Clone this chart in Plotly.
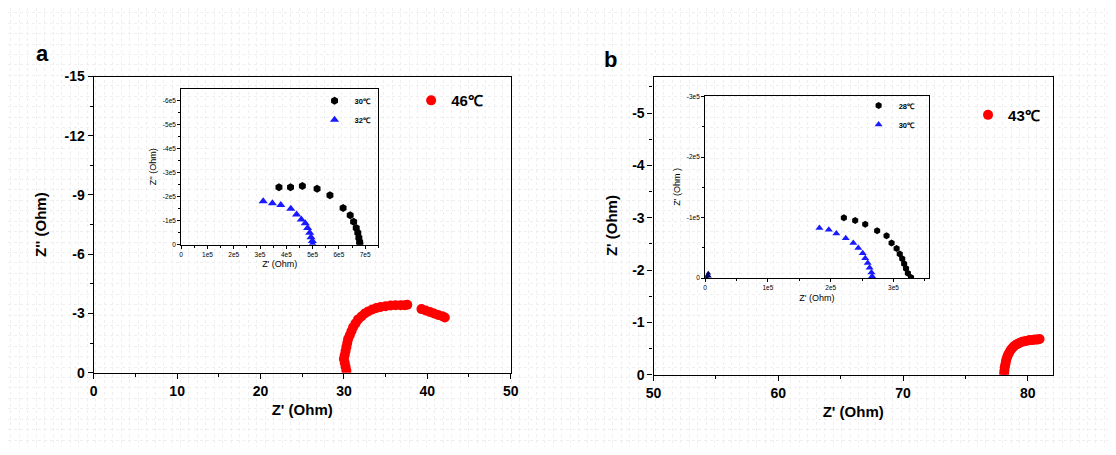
import plotly.graph_objects as go

W, H = 1116, 455

# ---------------- data ----------------
# (a) main: 46 ℃ Nyquist spectrum (Ohm)
a_zre = [30.3, 30.2, 30.1, 30.0, 30.1, 30.2, 30.3, 30.4, 30.5, 30.7, 30.9, 31.1,
         31.4, 31.7, 32.1, 32.5, 32.9, 33.4, 33.9, 34.4, 35.0, 35.6, 36.2, 36.8,
         37.3, 37.6,
         39.3, 39.8, 40.3, 40.8, 41.3, 41.8, 42.1]
a_zim = [-0.1, -0.3, -0.5, -0.7, -0.9, -1.1, -1.3, -1.5, -1.7, -1.9, -2.1, -2.3,
         -2.5, -2.7, -2.85, -3.0, -3.1, -3.2, -3.28, -3.33, -3.37, -3.4, -3.42, -3.42,
         -3.42, -3.44,
         -3.22, -3.15, -3.08, -3.0, -2.92, -2.86, -2.8]

# (a) inset: 30 ℃ and 32 ℃ spectra
a30_zre = [3.72e5, 4.16e5, 4.61e5, 5.17e5, 5.66e5, 6.16e5, 6.43e5, 6.56e5, 6.66e5,
           6.72e5, 6.76e5, 6.79e5, 6.80e5]
a30_zim = [-2.40e5, -2.40e5, -2.45e5, -2.33e5, -2.06e5, -1.53e5, -1.23e5, -0.96e5,
           -0.70e5, -0.50e5, -0.30e5, -0.12e5, -0.02e5]
a32_zre = [3.12e5, 3.47e5, 3.79e5, 4.17e5, 4.39e5, 4.57e5, 4.72e5, 4.81e5, 4.89e5,
           4.94e5, 4.99e5, 5.00e5]
a32_zim = [-1.81e5, -1.73e5, -1.66e5, -1.50e5, -1.26e5, -1.06e5, -0.90e5, -0.70e5,
           -0.50e5, -0.32e5, -0.16e5, -0.03e5]

# (b) main: 43 ℃ spectrum (Ohm)
b_zre = [78.1, 78.12, 78.15, 78.2, 78.25, 78.3, 78.38, 78.48, 78.6, 78.72, 78.88,
         79.05, 79.2, 79.36, 79.55, 79.75, 79.95, 80.15, 80.35, 80.55, 80.75, 80.94]
b_zim = [-0.02, -0.08, -0.14, -0.2, -0.26, -0.31, -0.36, -0.41, -0.46, -0.5, -0.54,
         -0.57, -0.59, -0.61, -0.63, -0.64, -0.65, -0.66, -0.66, -0.67, -0.67, -0.68]

# (b) inset: 28 ℃ and 30 ℃ spectra, plus the 43 ℃ data at this scale
b28_zre = [2.21e5, 2.39e5, 2.55e5, 2.74e5, 2.89e5, 2.97e5, 3.05e5, 3.10e5, 3.14e5,
           3.17e5, 3.20e5, 3.23e5, 3.28e5]
b28_zim = [-1.00e5, -0.955e5, -0.89e5, -0.785e5, -0.70e5, -0.58e5, -0.49e5, -0.40e5,
           -0.32e5, -0.24e5, -0.16e5, -0.08e5, -0.01e5]
b30_zre = [1.82e5, 1.97e5, 2.09e5, 2.24e5, 2.36e5, 2.44e5, 2.51e5, 2.55e5, 2.59e5,
           2.62e5, 2.65e5, 2.66e5]
b30_zim = [-0.83e5, -0.80e5, -0.74e5, -0.66e5, -0.58e5, -0.50e5, -0.41e5, -0.33e5,
           -0.25e5, -0.17e5, -0.095e5, -0.03e5]
b43_zre = [0.02e5, 0.04e5, 0.05e5, 0.06e5]
b43_zim = [-0.02e5, -0.05e5, -0.08e5, -0.03e5]

# tick labels
a_x_ticks = [0, 10, 20, 30, 40, 50]
a_y_ticks = [0, -3, -6, -9, -12, -15]
a_in_x_ticks = [0, 1e5, 2e5, 3e5, 4e5, 5e5, 6e5, 7e5]
a_in_x_text = ["0", "1e5", "2e5", "3e5", "4e5", "5e5", "6e5", "7e5"]
a_in_y_ticks = [0, -1e5, -2e5, -3e5, -4e5, -5e5, -6e5]
a_in_y_text = ["0", "-1e5", "-2e5", "-3e5", "-4e5", "-5e5", "-6e5"]
b_x_ticks = [50, 60, 70, 80]
b_y_ticks = [0, -1, -2, -3, -4, -5]
b_in_x_ticks = [0, 1e5, 2e5, 3e5]
b_in_x_text = ["0", "1e5", "2e5", "3e5"]
b_in_y_ticks = [0, -1e5, -2e5, -3e5]
b_in_y_text = ["0", "-1e5", "-2e5", "-3e5"]


# ---------------- helpers ----------------
def dom_x(p0, p1):
    return [p0 / W, p1 / W]


def dom_y(top, bottom):
    return [1 - bottom / H, 1 - top / H]


def axis(domain, rng, tickvals, ticktext, minor_vals, font_size, bold,
         title, title_size, standoff, ticklen=5, minorlen=3, lw=1.3, anchor=None):
    weight = "bold" if bold else "normal"
    d = dict(
        domain=domain, range=rng, showline=True, linecolor="black", linewidth=lw,
        mirror=True, ticks="outside", ticklen=ticklen, tickwidth=lw, tickcolor="black",
        showgrid=False, zeroline=False, tickmode="array", tickvals=tickvals,
        ticktext=ticktext,
        tickfont=dict(family="Arial", size=font_size, color="black", weight=weight),
        minor=dict(ticks="outside", ticklen=minorlen, tickwidth=lw, tickcolor="black",
                   tickmode="array", tickvals=minor_vals, showgrid=False),
        title=dict(text=title, standoff=standoff,
                   font=dict(family="Arial", size=title_size, color="black",
                             weight=weight)),
    )
    if anchor:
        d["anchor"] = anchor
    return d


# faint dotted page grid behind everything (first subplot = bottom layer)
page_grid = dict(domain=[0, 1], showline=False, ticks="", showticklabels=False,
                 zeroline=False, showgrid=True, gridcolor="#efefef", gridwidth=1,
                 griddash="dot", fixedrange=True)

fig = go.Figure()
fig.add_trace(go.Scatter(x=[], y=[], xaxis="x", yaxis="y", showlegend=False))

# (a) main
fig.add_trace(go.Scatter(x=a_zre, y=a_zim, mode="markers", name="46℃",
                         marker=dict(symbol="circle", size=10, color="#ff0000"),
                         xaxis="x2", yaxis="y2", legend="legend"))
# (a) inset
fig.add_trace(go.Scatter(x=a30_zre, y=a30_zim, mode="markers", name="30℃",
                         marker=dict(symbol="hexagon", size=8, color="black"),
                         xaxis="x3", yaxis="y3", legend="legend2"))
fig.add_trace(go.Scatter(x=a32_zre, y=a32_zim, mode="markers", name="32℃",
                         marker=dict(symbol="triangle-up", size=8, color="#1a1aff"),
                         xaxis="x3", yaxis="y3", legend="legend2"))
# (b) main
fig.add_trace(go.Scatter(x=b_zre, y=b_zim, mode="markers", name="43℃",
                         marker=dict(symbol="circle", size=10, color="#ff0000"),
                         xaxis="x4", yaxis="y4", legend="legend3"))
# (b) inset
fig.add_trace(go.Scatter(x=b28_zre, y=b28_zim, mode="markers", name="28℃",
                         marker=dict(symbol="hexagon", size=7, color="black"),
                         xaxis="x5", yaxis="y5", legend="legend4"))
fig.add_trace(go.Scatter(x=b30_zre, y=b30_zim, mode="markers", name="30℃",
                         marker=dict(symbol="triangle-up", size=7, color="#1a1aff"),
                         xaxis="x5", yaxis="y5", legend="legend4"))
fig.add_trace(go.Scatter(x=b43_zre, y=b43_zim, mode="markers", showlegend=False,
                         marker=dict(symbol="triangle-up", size=5, color="#000060"),
                         xaxis="x5", yaxis="y5"))

legend_common = dict(bgcolor="rgba(0,0,0,0)", borderwidth=0, xanchor="left",
                     yanchor="middle", itemwidth=30, tracegroupgap=0)

fig.update_layout(
    width=W, height=H, margin=dict(l=0, r=0, t=0, b=0),
    paper_bgcolor="white", plot_bgcolor="rgba(0,0,0,0)",
    xaxis=dict(page_grid, range=[0, W], tick0=3, dtick=8.6, anchor="y"),
    yaxis=dict(page_grid, range=[H, 0], tick0=5, dtick=10.8, anchor="x"),
    xaxis2=axis(dom_x(87, 510), [0, 50], a_x_ticks, [str(v) for v in a_x_ticks],
                [5, 15, 25, 35, 45], 14, True, "Z' (Ohm)", 15, 6, anchor="y2"),
    yaxis2=axis(dom_y(71, 378), [0, -15], a_y_ticks, [str(v) for v in a_y_ticks],
                [-1.5, -4.5, -7.5, -10.5, -13.5], 14, True, "Z'' (Ohm)", 15, 14,
                anchor="x2"),
    xaxis3=axis(dom_x(175.7, 375.7), [0, 7.5e5], a_in_x_ticks, a_in_x_text,
                [0.5e5, 1.5e5, 2.5e5, 3.5e5, 4.5e5, 5.5e5, 6.5e5, 7.5e5], 6.5, False,
                "Z' (Ohm)", 9, 4, ticklen=3, minorlen=2, lw=1, anchor="y3"),
    yaxis3=axis(dom_y(83.6, 245.5), [0, -6.5e5], a_in_y_ticks, a_in_y_text,
                [-0.5e5, -1.5e5, -2.5e5, -3.5e5, -4.5e5, -5.5e5], 6.5, False,
                "Z'' (Ohm)", 9, 4, ticklen=3, minorlen=2, lw=1, anchor="x3"),
    xaxis4=axis(dom_x(655, 1060), [50, 82], b_x_ticks, [str(v) for v in b_x_ticks],
                [55, 65, 75], 14, True, "Z' (Ohm)", 15, 6, anchor="y4"),
    yaxis4=axis(dom_y(71, 380), [0, -5.7], b_y_ticks, [str(v) for v in b_y_ticks],
                [-0.5, -1.5, -2.5, -3.5, -4.5, -5.5], 14, True, "Z' (Ohm)", 15, 10,
                anchor="x4"),
    xaxis5=axis(dom_x(707.3, 934), [0, 3.56e5], b_in_x_ticks, b_in_x_text,
                [0.5e5, 1.5e5, 2.5e5, 3.5e5], 6.5, False, "Z' (Ohm)", 9, 4,
                ticklen=3, minorlen=2, lw=1, anchor="y5"),
    yaxis5=axis(dom_y(90.7, 280), [0, -3.02e5], b_in_y_ticks, b_in_y_text,
                [-0.5e5, -1.5e5, -2.5e5], 6.5, False, "Z' (Ohm )", 9, 4,
                ticklen=3, minorlen=2, lw=1, anchor="x5"),
    legend=dict(x=409 / W, y=1 - 96 / H,
                font=dict(family="Arial", size=15, color="black", weight="bold"),
                **legend_common),
    legend2=dict(x=311 / W, y=1 - 106 / H,
                 font=dict(family="Arial", size=7.5, color="black", weight="bold"),
                 **legend_common),
    legend3=dict(x=974 / W, y=1 - 111 / H,
                 font=dict(family="Arial", size=15, color="black", weight="bold"),
                 **legend_common),
    legend4=dict(x=863 / W, y=1 - 111 / H,
                 font=dict(family="Arial", size=7.5, color="black", weight="bold"),
                 **legend_common),
    annotations=[
        dict(text="a", x=35 / W, y=1 - 47 / H, xref="paper", yref="paper",
             xanchor="center", yanchor="middle", showarrow=False,
             font=dict(family="Arial", size=22, color="black", weight="bold")),
        dict(text="b", x=611 / W, y=1 - 53 / H, xref="paper", yref="paper",
             xanchor="center", yanchor="middle", showarrow=False,
             font=dict(family="Arial", size=22, color="black", weight="bold")),
    ],
)

fig.write_html("out.html")
